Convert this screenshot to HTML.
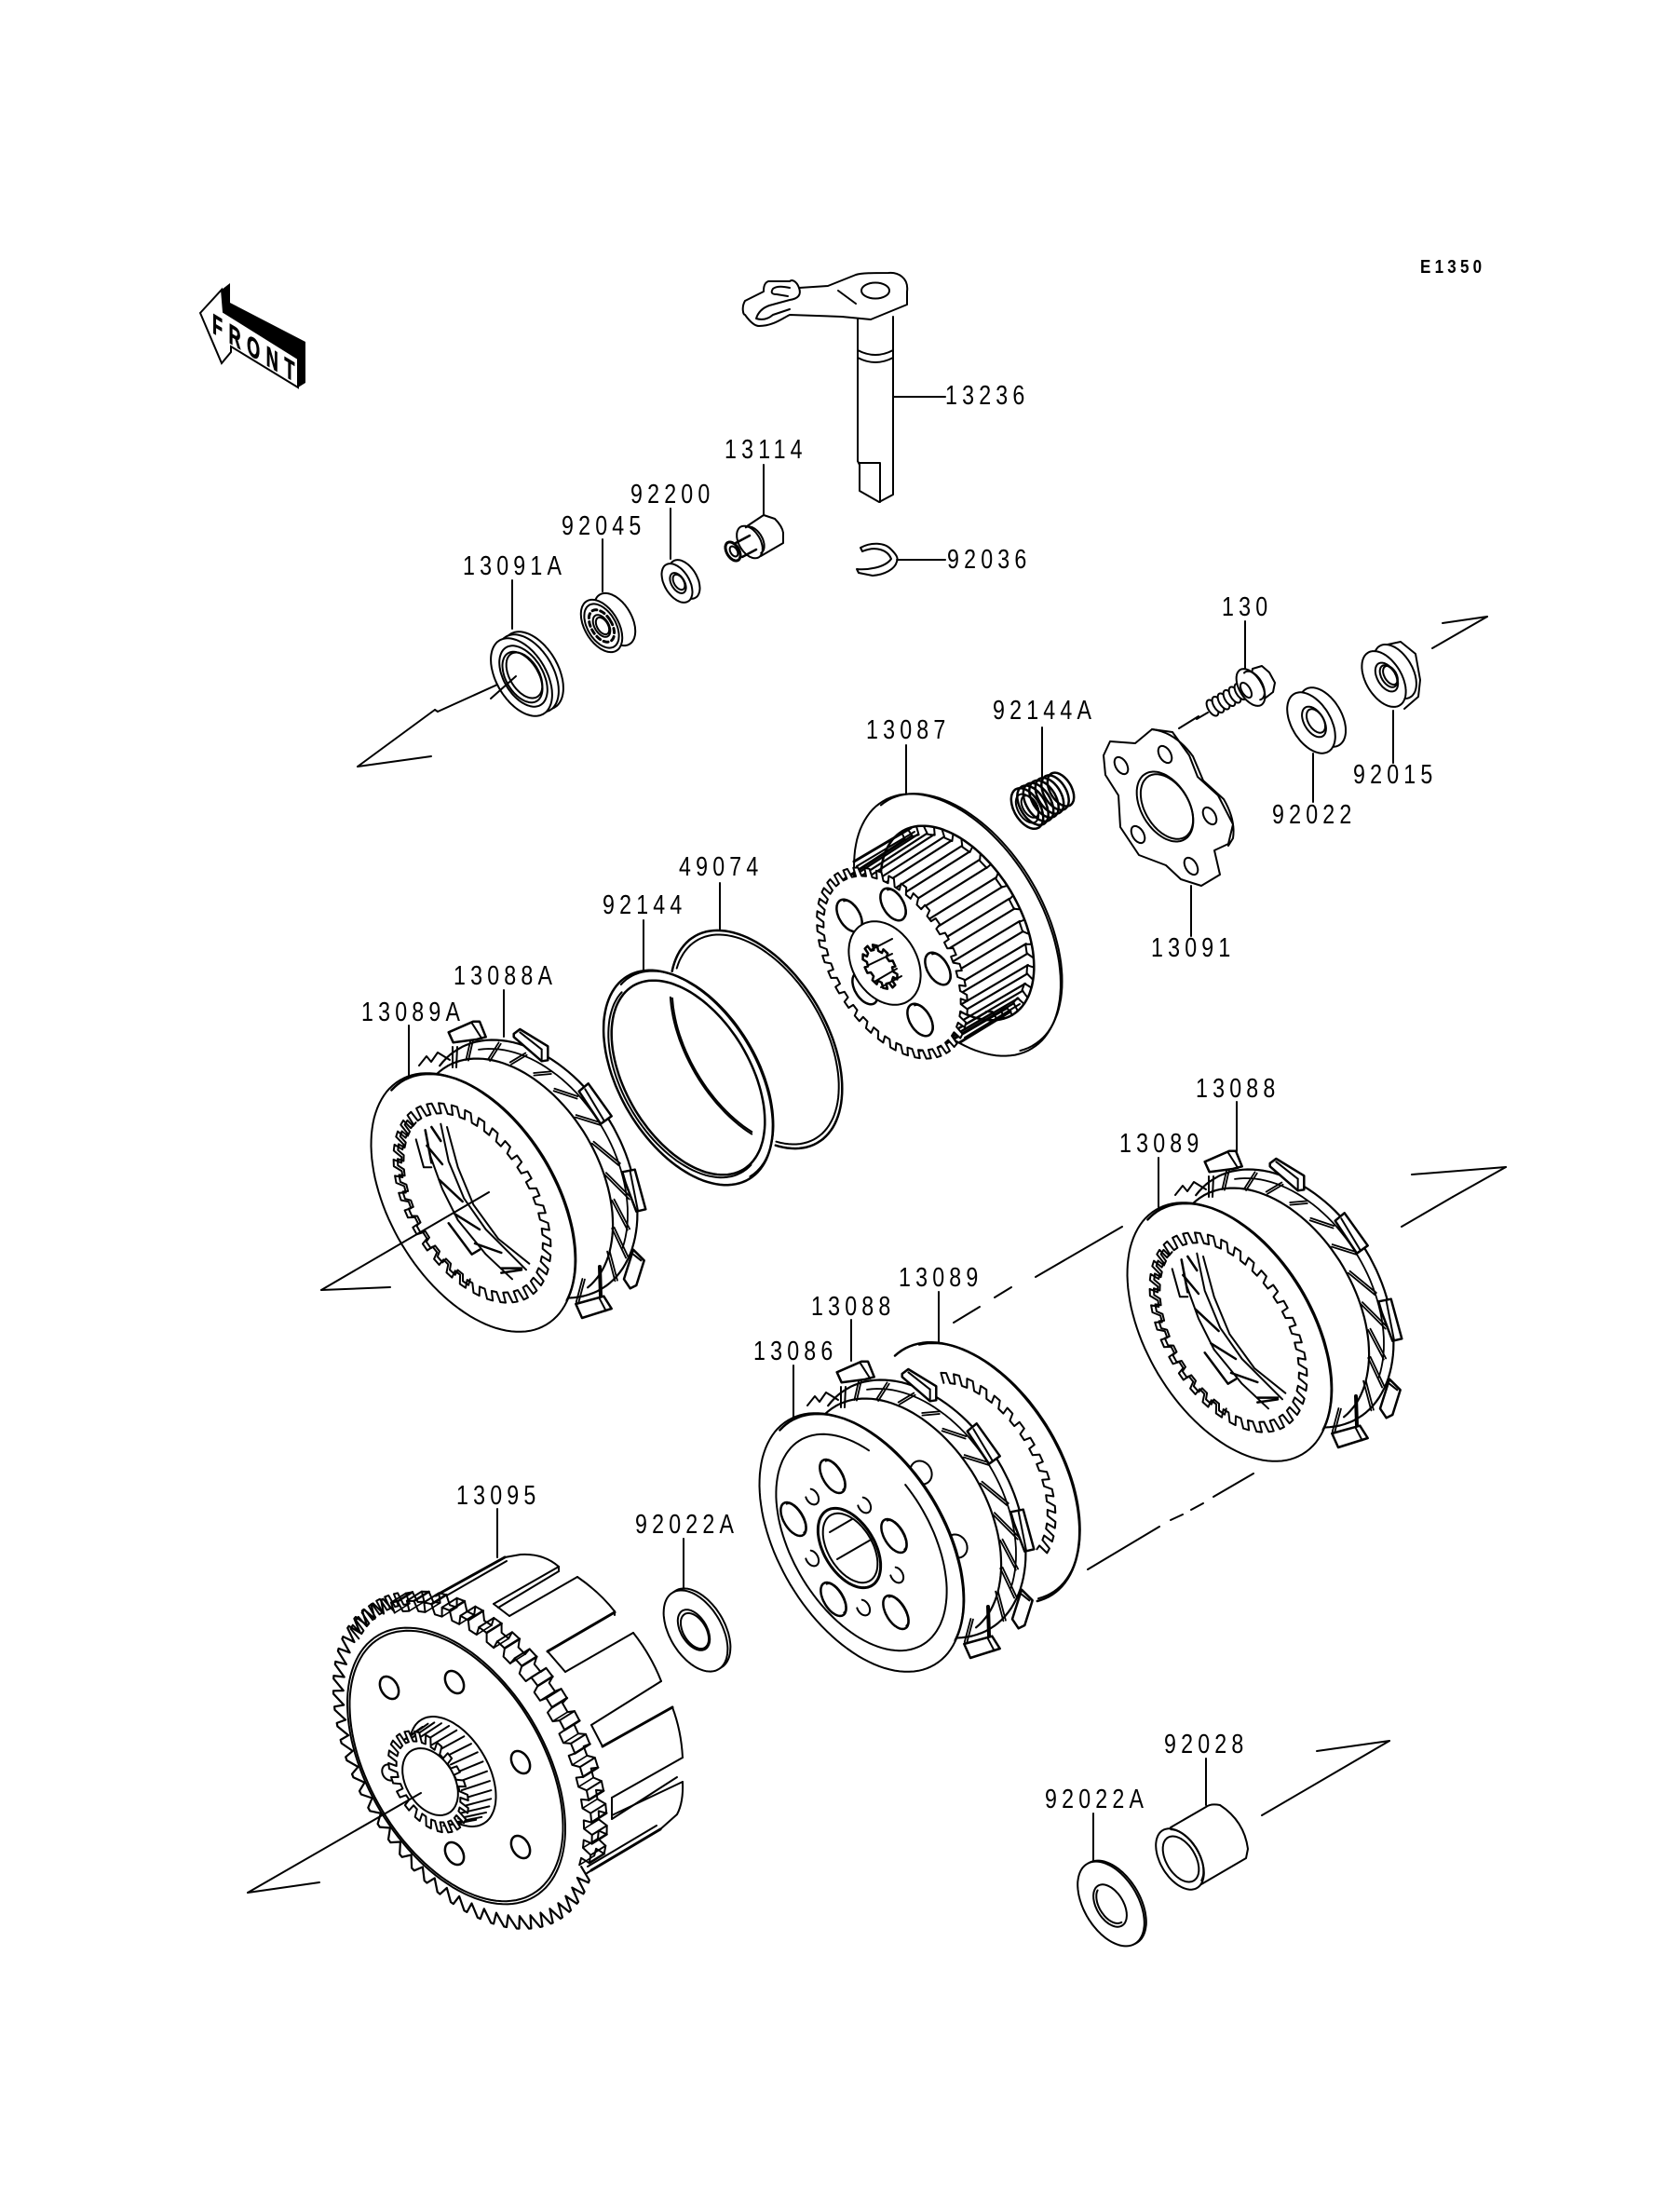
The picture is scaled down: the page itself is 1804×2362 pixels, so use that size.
<!DOCTYPE html>
<html><head><meta charset="utf-8"><title>Clutch</title>
<style>
html,body{margin:0;padding:0;background:#fff}
svg{display:block;filter:blur(.35px)}
text{font-family:"Liberation Sans",sans-serif;fill:#000}
.l{font-size:29px;letter-spacing:6.5px}
</style></head><body>
<svg xmlns="http://www.w3.org/2000/svg" width="1804" height="2362" viewBox="0 0 1804 2362">
<rect width="1804" height="2362" fill="#fff"/>
<g id="d" fill="none" stroke="#000" stroke-width="2" stroke-linejoin="round" stroke-linecap="round"></g>
<polygon points="238,311 247,304 247,325 328,367 328,411 320,416 320,385 240,335" fill="#000"/>
<polygon points="215,336 238,311 240,335 320,385 320,416 248,372 248,378 238,390" fill="#fff" stroke="#000" stroke-width="2"/>
<text transform="translate(228,357) skewY(31) scale(.6,1)" font-size="30" font-weight="700" letter-spacing="11" stroke="#000" stroke-width=".8">FRONT</text>
<text transform="translate(1525,293) scale(.85,1)" font-size="20" font-weight="700" letter-spacing="5">E1350</text>
<g class="l">
<text transform="translate(1015,434) scale(.8,1)">13236</text>
<text transform="translate(778,492) scale(.8,1)">13114</text>
<text transform="translate(677,540) scale(.8,1)">92200</text>
<text transform="translate(603,574) scale(.8,1)">92045</text>
<text transform="translate(497,617) scale(.8,1)">13091A</text>
<text transform="translate(1017,610) scale(.8,1)">92036</text>
<text transform="translate(1312,661) scale(.8,1)">130</text>
<text transform="translate(1066,772) scale(.8,1)">92144A</text>
<text transform="translate(930,793) scale(.8,1)">13087</text>
<text transform="translate(1453,841) scale(.8,1)">92015</text>
<text transform="translate(1366,884) scale(.8,1)">92022</text>
<text transform="translate(1236,1027) scale(.8,1)">13091</text>
<text transform="translate(729,940) scale(.8,1)">49074</text>
<text transform="translate(647,981) scale(.8,1)">92144</text>
<text transform="translate(487,1057) scale(.8,1)">13088A</text>
<text transform="translate(388,1096) scale(.8,1)">13089A</text>
<text transform="translate(965,1381) scale(.8,1)">13089</text>
<text transform="translate(871,1412) scale(.8,1)">13088</text>
<text transform="translate(809,1460) scale(.8,1)">13086</text>
<text transform="translate(1284,1178) scale(.8,1)">13088</text>
<text transform="translate(1202,1237) scale(.8,1)">13089</text>
<text transform="translate(490,1615) scale(.8,1)">13095</text>
<text transform="translate(682,1646) scale(.8,1)">92022A</text>
<text transform="translate(1250,1882) scale(.8,1)">92028</text>
<text transform="translate(1122,1941) scale(.8,1)">92022A</text>
</g>
</svg>
<script>
var G=document.getElementById('d'),NS='http://www.w3.org/2000/svg',C=.857,S=.515,R=Math.PI/180;
function add(d,o){o=o||{};var p=document.createElementNS(NS,'path');p.setAttribute('d',d);
 if(o.fill)p.setAttribute('fill',o.fill);if(o.w)p.setAttribute('stroke-width',o.w);
 if(o.ns)p.setAttribute('stroke','none');
 if(o.dash)p.setAttribute('stroke-dasharray',o.dash);G.appendChild(p);}
function P(x,y,a,b,f){var u=a*Math.cos(f*R),v=b*Math.sin(f*R);return [x+C*u+S*v,y-S*u+C*v];}
function pts(a,close){return 'M'+a.map(function(p){return p[0].toFixed(1)+' '+p[1].toFixed(1)}).join('L')+(close?'Z':'');}
function el(x,y,b,o){o=o||{};var k=o.k||.58,f=o.f===undefined?0:o.f,t=o.t===undefined?360:o.t,a=[];
 for(var q=f;q<=t;q+=3)a.push(P(x,y,k*b,b,q));a.push(P(x,y,k*b,b,t));add(pts(a,t-f>=360),o);}
function poly(a,o){o=o||{};add(pts(a,o.close!==false),o);}
function L(a,b,c,d,w){add('M'+a+' '+b+'L'+c+' '+d,{w:w});}
function dbl(a,b,c,d){var dx=c-a,dy=d-b,l=Math.sqrt(dx*dx+dy*dy)||1,nx=-dy/l*1.3,ny=dx/l*1.3;
 L(a+nx,b+ny,c+nx,d+ny,1.8);L(a-nx,b-ny,c-nx,d-ny,1.8);}
function teeth(x,y,bo,bi,n,o){o=o||{};var k=.58,f=o.f===undefined?0:o.f,t=o.t===undefined?360:o.t,s=(t-f)/n,a=[];
 for(var i=0;i<n;i++){var q=f+i*s;
  if(o.tri){a.push(P(x,y,k*bi,bi,q));a.push(P(x,y,k*bo,bo,q+.4*s));a.push(P(x,y,k*bo,bo,q+.6*s));}
  else{a.push(P(x,y,k*bi,bi,q));a.push(P(x,y,k*bo,bo,q+.08*s));a.push(P(x,y,k*bo,bo,q+.5*s));a.push(P(x,y,k*bi,bi,q+.58*s));}}
 if(t-f<360)a.push(P(x,y,k*bi,bi,t));
 add(pts(a,t-f>=360),o);}

/* axis lines */
L(384,823,463,812);L(384,823,467,762);L(467,762,470,764);L(470,764,554,726);
L(1597,662,1549,669);L(1597,662,1538,696);L(1297,765,1285,772);L(1287,769,1266,782);
L(345,1385,419,1382);
L(1617,1253,1516,1261);L(1617,1253,1560,1285);L(1560,1285,1505,1317);
L(1024,1420,1052,1403);L(1068,1393,1086,1382);L(1112,1371,1205,1317);
L(1168,1685,1245,1639);L(1257,1632,1270,1626);L(1279,1621,1292,1614);L(1303,1607,1346,1582);
L(1492,1869,1414,1880);L(1492,1869,1355,1949);

/* leaders */
[[550,623,675],[647,579,635],[720,546,600],[820,499,552],[1337,667,719],[1119,781,834],[1496,763,819],[1410,809,861],[1279,951,1005],[973,800,857],[773,948,999],[691,988,1043],[541,1063,1113],[439,1101,1155],[1008,1387,1441],[914,1417,1461],[852,1466,1521],[1328,1183,1236],[1244,1243,1296],[534,1620,1672],[734,1652,1705],[1295,1888,1938],[1174,1947,1998]].forEach(function(v){L(v[0],v[1],v[0],v[2]);});
L(959,426,1015,426);L(963,601,1015,601);

/* lever + shaft */
add('M921 340V495L923 499V527L944 539L959 531V340',{fill:'#fff'});
add('M923 497H945V539');
add('M921 376Q940 386 959 376M921 384Q940 394 959 384');
add('M974 313C976 298 964 292 954 293C938 293 925 293 919 295L889 307L858 309C855 301 850 300 848 302L825 302C820 304 820 310 820 313L800 323C796 330 798 338 800 338C805 345 810 350 815 350C830 350 840 342 848 338L904 340L935 343L974 327Z',{fill:'#fff'});
add('M848 309Q835 306 830 310Q826 316 834 316L846 318');
add('M858 309Q862 320 848 322L826 328Q815 332 812 342Q822 345 830 338L848 332');
add('M900 312L919 326');
add('M925 312a15 8.5 0 1 0 30 0a15 8.5 0 1 0 -30 0');

/* pin 13114 */
add('M820 553L832 557Q840 565 841 572V583L817 597L802 565Z',{fill:'#fff'});
el(805,582,19,{fill:'#fff',k:.6,w:2});
el(809,580,16,{k:.6,f:-90,t:90});
add('M790 583L805 575M797 598L812 590',{w:2.5});
el(787,592,11,{k:.6,fill:'#fff',w:3});el(788,592,6,{k:.6});

/* clip */
add('M924 588C935 582 950 582 957 590C962 595 965 599 963 603C961 611 950 617 937 618L922 615L920 611C930 612 950 610 957 600C953 590 940 586 926 592Z',{w:2});

/* seal 13091A */
el(572,720,46,{fill:'#fff'});el(567,723,46,{fill:'#fff'});el(560,727,46,{fill:'#fff'});
el(562,726,36);el(561,727,30);el(563,725,27);
L(527,750,554,726);

/* bearing */
el(660,665,31,{fill:'#fff'});el(646,672,31,{fill:'#fff'});el(646,672,26);el(646,672,19,{dash:'5 4',w:3});el(646,672,13);el(647,672,10);

/* washer 92200 */
el(735,622,23,{fill:'#fff'});el(727,626,23,{fill:'#fff'});el(728,626,12);el(729,625,9);

/* spring */
for(var i=6;i>=0;i--){el(1103+i*6,868-i*3.4,24-i*.7,{fill:i==6?'#fff':'none',w:2.5});}
el(1103,868,17);el(1106,866,13);

/* plate 13091 */
var pl=[[1185,811],[1192,796],[1219,798],[1237,783],[1259,786],[1277,811],[1286,834],[1308,854],[1324,885],[1319,906],[1304,913],[1310,939],[1290,951],[1268,944],[1252,929],[1223,918],[1203,888],[1201,854],[1187,832]];
poly(pl,{fill:'#fff'});
add('M1237 783Q1262 786 1281 812L1292 838L1314 858Q1327 880 1324 900L1319 908');
el(1251,866,41,{k:.62});el(1253,866,38,{k:.62});
[[1204,822],[1251,810],[1299,876],[1222,896],[1279,930]].forEach(function(h){el(h[0],h[1],10,{k:.6});});

/* bolt */
for(i=0;i<7;i++){el(1302+i*6,760-i*3.5,9.5,{k:.5,fill:'#fff',w:2});}
add('M1345 718L1355 715L1363 722L1369 733L1367 743L1358 750L1352 753L1340 745Z',{fill:'#fff'});
el(1343,738,22,{k:.55,fill:'#fff'});
el(1346,736,17,{k:.55,f:-100,t:100});
el(1338,741,9,{k:.5,fill:'#fff'});

/* washer 92022 */
el(1420,770,35,{fill:'#fff'});el(1408,776,36,{fill:'#fff'});el(1411,775,18);el(1413,774,14);

/* nut 92015 */
el(1498,721,32,{fill:'#fff'});
add('M1490 692L1504 689L1520 702L1525 730L1523 748L1508 761',{w:2});
el(1486,729,33,{fill:'#fff'});el(1489,727,17);el(1491,726,13);el(1493,725,11);

/* rings */
el(812,1116,129,{f:-122,t:123,w:2.5});el(812,1116,124,{f:-118,t:122});
el(812,1116,129,{f:139,t:222});el(812,1116,126,{f:139,t:222});
el(739,1157,127,{w:2.5});el(739,1157,115,{w:2.5});el(741,1156,125,{f:-100,t:90});el(737,1158,117,{f:80,t:260});

/* hub 13087 */
el(1028,993,155,{fill:'#fff'});el(1031,991,153,{f:-95,t:100});
el(1028,991,115,{fill:'#fff',w:2.5});
teeth(1028,991,115,105,14,{f:-92,t:112});
(function(){var n=14,s=204/n;for(var i=0;i<=n;i++){var f=-92+i*s;
 var a=P(958,1034,.58*104,104,f),b=P(1028,991,.58*106,106,f);
 var c=P(958,1034,.58*104,104,f+.55*s),d=P(1028,991,.58*106,106,f+.55*s);
 L(a[0],a[1],b[0],b[1],2.2);if(i<n)L(c[0],c[1],d[0],d[1],2.2);}})();
L(917,925,978,889,3);L(920,930,982,893);L(1031,1119,1085,1086,3);L(1036,1114,1095,1078);
teeth(958,1034,113,103,38,{fill:'#fff'});
[[912,983],[959,971],[1007,1040],[988,1095],[929,1061]].forEach(function(h){el(h[0],h[1],19,{k:.58,w:2.5,fill:'#fff'});el(h[0]+3,h[1]-1,17,{k:.45,f:-90,t:90});});
el(950,1034,48,{fill:'#fff',k:.72});
teeth(945,1038,26,20,10,{w:2.5});
L(935,1020,958,1008);L(933,1036,958,1024);L(939,1054,963,1040);L(946,1060,968,1048);

/* friction pack */
var TABS=[[[5,55],[85,20],[105,20],[125,70],[95,78],[20,88]],[[215,60],[235,45],[325,100],[325,145],[305,148],[215,70]],[[425,245],[455,220],[530,325],[495,350]],[[565,505],[605,497],[640,625],[610,632],[575,540]],[[570,850],[600,755],[635,790],[610,870],[590,880]],[[415,930],[505,905],[530,945],[435,975]]];
var TL=[[80,25,112,75],[235,55,305,110],[305,110,305,147],[445,238,505,338],[590,503,615,630],[600,770,625,790],[490,910,512,952]];
var HT=[[80,80,65,145],[170,90,135,145],[255,125,205,155],[335,185,280,190],[420,265,345,240],[495,350,415,325],[555,480,470,410],[590,590,510,510],[585,690,535,595],[580,780,535,685],[545,855,520,760],[440,850,420,925]];
function friction(ox,oy){
 function Z(p){return [480+p[0]/3+ox,1090+p[1]/3+oy];}
 el(569+ox,1255+oy,150,{k:.667,fill:'#fff',ns:1});
 el(569+ox,1255+oy,150,{k:.667,f:-105,t:113,w:2.2});
 el(564+ox,1258+oy,143,{k:.667,f:-75,t:60,w:1.8});
 el(552+ox,1266+oy,141,{k:.64,fill:'#fff',ns:1});
 el(552+ox,1266+oy,141,{k:.64,f:-98,t:85,w:2.2});
 HT.forEach(function(h){var a=Z([h[0],h[1]]),b=Z([h[2],h[3]]);dbl(a[0],a[1],b[0],b[1]);});
 var v=Z([492,810]),w=Z([495,903]);L(v[0],v[1],w[0],w[1],4);
 TABS.forEach(function(t){poly(t.map(Z),{fill:'#fff',w:2.5});});
 TL.forEach(function(h){var a=Z([h[0],h[1]]),b=Z([h[2],h[3]]);L(a[0],a[1],b[0],b[1],2);});
 add('M'+(450+ox)+' '+(1144+oy)+'L'+(458+ox)+' '+(1134+oy)+'L'+(463+ox)+' '+(1140+oy)+'L'+(470+ox)+' '+(1130+oy)+'L'+(483+ox)+' '+(1138+oy));
 L(486+ox,1124+oy,486+ox,1146+oy);L(491+ox,1124+oy,490+ox,1146+oy);
}
function steel(ox,oy){
 function Y(p){return [395+p[0]/3+ox,1170+p[1]/3+oy];}
 el(508+ox,1291+oy,153,{fill:'#fff'});el(510+ox,1290+oy,151,{f:-100,t:70,w:2.5});
 var st=10;
 teeth(507+ox,1291.5+oy,118,106,36,{w:2});
 teeth(510+ox,1290+oy,116,107,12,{f:st*14,t:st*26,w:2});
 [[[255,120],[290,250],[340,370],[420,480],[520,560]],[[235,110],[260,230],[310,350],[380,450],[510,580]],[[185,130],[200,210],[240,320],[290,420],[380,530],[465,610]]].forEach(function(c){poly(c.map(Y),{close:false});});
 poly([[155,160],[180,250],[205,250]].map(Y),{close:false});
 poly([[260,430],[335,530],[360,515]].map(Y),{close:false,w:2.5});
 [[190,180,240,240],[230,290,305,360],[280,400,360,450],[345,495,430,525],[430,575,495,575],[430,590,495,580],[205,120,235,165],[185,130,205,235]].forEach(function(h){var a=Y([h[0],h[1]]),b=Y([h[2],h[3]]);L(a[0],a[1],b[0],b[1],2.5);});
}
/* left */
friction(0,0);steel(0,0);
L(345,1385,525,1280);
/* right */
friction(812,139);steel(812,139);
/* middle back plate */
el(1049,1581,154,{f:-97,t:100,w:2.5});
el(1051,1580,152,{f:-80,t:100});
teeth(1049,1581,118,106,15,{f:-72,t:78});
friction(417,365);
/* bumps + pressure plate */
el(989,1581,13,{k:.85,fill:'#fff'});el(1027,1660,13,{k:.85,fill:'#fff'});
el(925,1656,153,{fill:'#fff',w:2});el(927,1655,151,{f:-100,t:70,w:2.5});
el(925,1656,128,{f:-13,t:321});
[[894,1585],[852,1631],[960,1649],[895,1717],[962,1731]].forEach(function(h){el(h[0],h[1],20,{k:.52,w:2.5});el(h[0]+2,h[1]-1,18,{k:.42,f:-90,t:90});});
[[872,1607],[928,1616],[872,1673],[963,1691],[927,1726]].forEach(function(h){el(h[0],h[1],9,{k:.7,f:-60,t:200});});
el(912,1662,47,{w:3});el(913,1662,41);
L(891,1645,915,1631);L(899,1674,937,1652);

/* basket 13095 */
[[559,1669,600,1682,-8],[620,1693,660,1730,-2],[680,1753,710,1805,-2],[722,1833,733,1887,-2]].forEach(function(a){add('M'+a[0]+' '+a[1]+'Q'+((a[0]+a[2])/2+4)+' '+((a[1]+a[3])/2+a[4])+' '+a[2]+' '+a[3]);});
add('M733 1913Q734 1935 727 1948L709 1964');
L(468,1713,542,1672,3);L(471,1718,544,1676);L(542,1672,559,1669);
L(600,1682,600,1687);L(600,1682,530,1722);L(600,1687,535,1726);L(530,1722,547,1735);L(547,1735,620,1693);
L(660,1730,660,1734);L(660,1731,588,1773,3);L(588,1773,607,1795);L(607,1795,680,1753);
L(710,1805,635,1852);L(635,1852,647,1875);L(647,1875,722,1833,3);
L(733,1887,657,1930);L(657,1930,657,1953);L(657,1953,727,1908,2);L(657,1949,733,1913);
L(709,1964,635,2008,3);L(705,1960,631,2004);
/* spline row */
teeth(515,1882,191,179,17,{f:-80,t:62,fill:'#fff'});
(function(){var n=17,s=142/n;for(var i=0;i<=n;i++){var f=-80+i*s;
 var a=P(499,1892,.58*191,191,f+.08*s),b=P(515,1882,.58*191,191,f+.08*s);
 var c=P(499,1892,.58*191,191,f+.5*s),d=P(515,1882,.58*191,191,f+.5*s);
 L(a[0],a[1],b[0],b[1],2);if(i<n)L(c[0],c[1],d[0],d[1],2.6);
 var e=P(499,1892,.58*179,179,f),g=P(515,1882,.58*179,179,f);L(e[0],e[1],g[0],g[1],1.6);}})();
teeth(505,1888,197,183,7,{f:250,t:285});
el(499,1892,178,{fill:'#fff',ns:1});
teeth(499,1892,191,179,17,{f:-80,t:62,w:2});
teeth(499,1892,197,182,37,{f:62,t:280,tri:1,fill:'none',w:2.2});
el(490,1896,163.5,{w:2});el(490,1896,160,{w:2});
[[418,1812],[488,1806],[559,1892],[559,1983],[488,1990]].forEach(function(h){el(h[0],h[1],13,{k:.68,w:2.5});});
el(486,1902,65,{fill:'#fff'});
(function(){var n=9,s=205/n;for(var i=0;i<=n;i++){var f=-95+i*s;var a=P(460,1913,.58*52,52,f),b=P(486,1902,.58*58,58,f);var c=P(460,1913,.58*52,52,f+.5*s),d=P(486,1902,.58*58,58,f+.5*s);L(a[0],a[1],b[0],b[1],2);if(i<n)L(c[0],c[1],d[0],d[1],2);}})();
el(418,1903,9,{k:.8,f:60,t:300});
teeth(460,1913,60,48,22,{fill:'#fff',w:2});
el(462,1913,39,{k:.66,w:2});
L(266,2032,343,2021);L(266,2032,452,1925);

/* washer mid */
el(750,1749,48,{fill:'#fff'});el(747,1751,48,{fill:'#fff'});el(745,1750,24,{w:2});el(746,1751,21);

/* bush */
add('M1257 1962L1295 1940Q1300 1936 1310 1938Q1336 1955 1340 1985L1338 1995L1290 2023',{fill:'#fff'});
el(1267,1996,36,{fill:'#fff'});el(1268,1995,34,{f:-70,t:70});el(1268,1996,27);

/* washer low */
el(1195,2043,50,{fill:'#fff'});el(1193,2044,50,{fill:'#fff'});el(1192,2046,25);el(1193,2045,22,{f:90,t:250});
</script>
</body></html>
